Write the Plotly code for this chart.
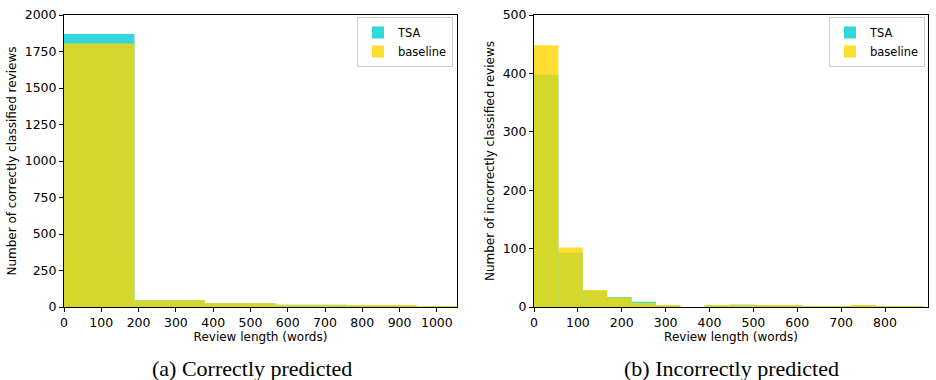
import plotly.graph_objects as go

# ---- data ----
left_bin_width = 189
left_edges = [0, 189, 378, 567, 756, 945]
left_tsa = [1870, 47, 25, 16, 12, 5]
left_base = [1805, 46, 25, 13, 11, 5]

right_bin_width = 55.6
right_edges = [round(i * 55.6, 1) for i in range(16)]
right_tsa = [398, 93, 28, 17, 9, 2, 0, 2, 4, 2, 2, 1, 1, 2, 1, 1]
right_base = [448, 102, 29, 16, 7, 2, 0, 2, 2, 2, 2, 1, 1, 3, 1, 1]

series_names = ["TSA", "baseline"]
series_colors = ["rgb(0,206,209)", "rgb(255,215,0)"]

titles = ["(a) Correctly predicted", "(b) Incorrectly predicted"]
ylabels = ["Number of correctly classified reviews", "Number of incorrectly classified reviews"]
xlabel = "Review length (words)"

W, H = 936, 380
fig = go.Figure()

def add_pair(edges, width, tsa, base, xa, ya, legend):
    for name, color, vals in zip(series_names, series_colors, [tsa, base]):
        fig.add_trace(go.Bar(
            x=edges, y=vals, width=[width] * len(edges), offset=0,
            name=name, marker=dict(color=color, line=dict(width=0)),
            opacity=0.8, xaxis=xa, yaxis=ya, legend=legend,
        ))

add_pair(left_edges, left_bin_width, left_tsa, left_base, "x", "y", "legend")
add_pair(right_edges, right_bin_width, right_tsa, right_base, "x2", "y2", "legend2")

tickfont = dict(family="DejaVu Sans", size=12.5, color="black")
labfont = dict(family="DejaVu Sans", size=12, color="black")
legfont = dict(family="DejaVu Sans", size=11.5, color="black")
y0, y1 = 1 - 307 / H, 1 - 15 / H
common = dict(showline=True, mirror=True, linecolor="black", linewidth=1,
              ticks="outside", ticklen=4, tickcolor="black", tickwidth=1,
              showgrid=False, zeroline=False, tickfont=tickfont, automargin=False)

legcommon = dict(xanchor="right", yanchor="top", bordercolor="#cccccc", borderwidth=1,
                 bgcolor="rgba(255,255,255,0.8)", font=legfont, tracegroupgap=0,
                 itemwidth=30)

fig.update_layout(
    width=W, height=H, margin=dict(l=0, r=0, t=0, b=0),
    paper_bgcolor="white", plot_bgcolor="white",
    barmode="overlay", font=labfont,
    xaxis=dict(domain=[64 / W, 457 / W], range=[0, 1054], dtick=100, anchor="y",
               title=dict(text=xlabel, font=labfont, standoff=0), **common),
    yaxis=dict(domain=[y0, y1], range=[0, 2000], dtick=250, anchor="x",
               title=dict(text=ylabels[0], font=labfont, standoff=5), **common),
    xaxis2=dict(domain=[534 / W, 928 / W], range=[0, 898], dtick=100, anchor="y2",
                title=dict(text=xlabel, font=labfont, standoff=0), **common),
    yaxis2=dict(domain=[y0, y1], range=[0, 500], dtick=100, anchor="x2",
                title=dict(text=ylabels[1], font=labfont, standoff=5), **common),
    legend=dict(x=453 / W, y=1 - 17 / H, **legcommon),
    legend2=dict(x=925 / W, y=1 - 17 / H, **legcommon),
    annotations=[
        dict(text=titles[0], x=252 / W, y=1 - 368 / H, xref="paper", yref="paper",
             xanchor="center", yanchor="middle", showarrow=False,
             font=dict(family="Liberation Serif", size=22, color="black")),
        dict(text=titles[1], x=731 / W, y=1 - 368 / H, xref="paper", yref="paper",
             xanchor="center", yanchor="middle", showarrow=False,
             font=dict(family="Liberation Serif", size=22, color="black")),
    ],
)

fig.write_html("out.html")
